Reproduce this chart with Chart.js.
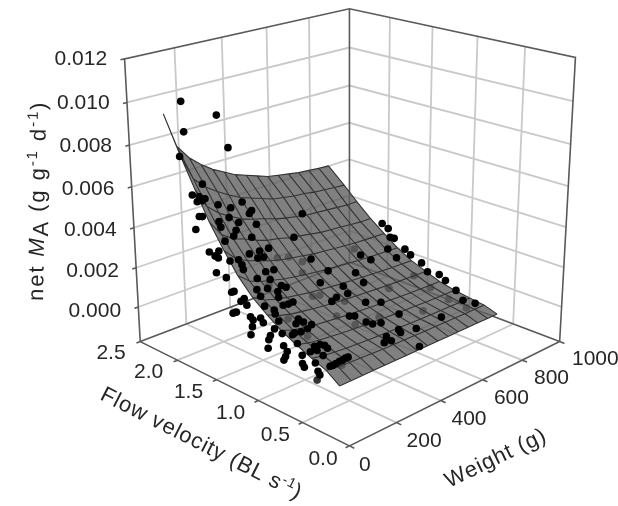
<!DOCTYPE html>
<html>
<head>
<meta charset="utf-8">
<script src="https://cdn.jsdelivr.net/npm/chart.js@4/dist/chart.umd.min.js"></script>
<style>
  html, body { margin: 0; background: #fff; }
  #wrap { width: 618px; height: 506px; }
  canvas { filter: blur(0.45px); }
</style>
</head>
<body>
<div id="wrap"><canvas id="myChart" width="618" height="506"></canvas></div>
<script>
const weightTicks = [0, 200, 400, 600, 800, 1000];
const velocityTicks = [0.0, 0.5, 1.0, 1.5, 2.0, 2.5];
const maTicks = [0.0, 0.002, 0.004, 0.006, 0.008, 0.01, 0.012];
const maFloor = -0.0018;

const surfaceWeight = [90, 139, 188, 237, 286, 335, 384, 433, 482, 531, 580, 629, 678, 727, 776, 825];
const surfaceVelocity = [0.33, 0.47, 0.63, 0.8, 0.97, 1.13, 1.3, 1.47, 1.63, 1.8, 1.97, 2.13, 2.33];
const surfaceMA = [
  [-1.8, -1.8, -1.8, -1.8, -1.8, -1.8, -1.8, -1.8, -1.8, -1.8, -1.8, -1.8, -1.8, -1.8, -1.8, -1.8],
  [2.6, 2, 1.6, 1.3, 1.1, 0.9, 0.8, 0.7, 0.6, 0.5, 0.5, 0.4, 0.4, 0.3, 0.3, 0.3],
  [5.2, 4.1, 3.5, 3, 2.7, 2.3, 2.1, 1.9, 1.7, 1.5, 1.4, 1.3, 1.2, 1.2, 1.1, 1.1],
  [8.4, 6.9, 6, 5.4, 4.8, 4.4, 4, 3.7, 3.4, 3.1, 2.9, 2.7, 2.5, 2.4, 2.3, 2.2],
  [12, 10, 8.9, 8, 7.4, 6.8, 6.3, 5.9, 5.5, 5.2, 4.9, 4.6, 4.4, 4.2, 4, 3.9],
  [16.6, 14, 12.5, 11.5, 10.7, 10, 9.4, 8.9, 8.5, 8.1, 7.7, 7.4, 7.1, 6.9, 6.7, 6.5],
  [22, 18.5, 16.7, 15.5, 14.5, 13.6, 12.9, 12.3, 11.8, 11.3, 10.9, 10.5, 10.1, 9.8, 9.6, 9.4],
  [29.6, 24.8, 22.5, 21, 19.6, 18.6, 17.7, 16.9, 16.2, 15.7, 15.2, 14.7, 14.3, 14, 13.7, 13.5],
  [39, 33, 30, 28, 26, 24.5, 23.5, 22.5, 21.5, 21, 20.3, 19.8, 19.3, 19, 18.8, 18.5],
  [50, 42, 38, 36, 33.5, 31.5, 30.5, 29, 28, 27, 26, 25.5, 25, 24.5, 24, 24],
  [63.5, 53, 48, 44.5, 41.5, 39.5, 38, 36, 34.5, 33.5, 32.5, 32, 31.5, 31, 30.5, 30.5],
  [76.5, 64, 58.5, 54.5, 51, 48, 46, 44, 42, 41, 40, 39.5, 38.5, 38, 37.5, 37],
  [94, 77, 70, 65, 61, 58, 55, 53, 51, 49, 48, 47, 46, 45.5, 45, 44.6],
];

// black dots
const dotWeight = [169, 316, 176, 362, 155, 175, 74, 102, 80, 113, 151, 205, 329, 262, 349, 332, 73, 70, 223, 160, 257, 154, 334, 70, 221, 197, 274, 136, 315, 268, 70, 73, 70, 217, 268, 70, 70, 239, 94, 150, 150, 145, 454, 479, 233, 272, 70, 70, 182, 230, 408, 253, 266, 190, 141, 219, 70, 70, 204, 135, 70, 70, 70, 119, 198, 220, 244, 70, 70, 145, 131, 70, 70, 70, 70, 113, 196, 171, 203, 223, 73, 70, 194, 159, 70, 83, 115, 131, 70, 70, 98, 70, 70, 148, 171, 183, 180, 139, 70, 111, 70, 70, 73, 86, 70, 70, 138, 562, 455, 479, 563, 573, 464, 412, 379, 487, 539, 541, 380, 396, 408, 417, 448, 467, 459, 402, 395, 367, 117, 130, 146, 165, 178, 194, 206, 70, 70, 680, 658, 852, 858, 835, 847, 785, 847, 846, 783, 851, 829, 854, 846, 828, 795, 811, 646, 520, 439];
const dotVelocity = [2.35, 2.35, 2.35, 2.35, 2.35, 2.13, 1.95, 1.95, 1.91, 1.95, 2.03, 2.03, 2.09, 2.04, 2.03, 2.01, 1.83, 1.86, 1.95, 1.89, 1.93, 1.85, 1.93, 1.91, 1.86, 1.82, 1.82, 1.75, 1.73, 1.71, 1.75, 1.64, 1.67, 1.69, 1.66, 1.68, 1.64, 1.65, 1.57, 1.63, 1.59, 1.56, 1.59, 1.45, 1.54, 1.55, 1.67, 1.55, 1.5, 1.48, 1.36, 1.41, 1.39, 1.4, 1.39, 1.36, 1.46, 1.49, 1.31, 1.33, 1.34, 1.38, 1.31, 1.24, 1.24, 1.24, 1.25, 1.44, 1.48, 1.2, 1.15, 1.27, 1.15, 1.24, 1.12, 1.06, 1.06, 1.02, 1.02, 0.98, 1.0, 1.25, 0.95, 0.93, 1.27, 0.94, 0.91, 0.93, 1.04, 1.06, 0.81, 1.07, 0.89, 0.75, 0.75, 0.73, 0.69, 0.7, 0.85, 0.7, 0.87, 0.89, 0.69, 0.58, 0.68, 0.66, 0.63, 1.98, 1.8, 1.27, 1.24, 1.36, 1.18, 1.18, 1.15, 1.03, 0.98, 0.78, 0.95, 0.93, 0.83, 0.78, 0.76, 0.61, 0.57, 0.59, 0.52, 0.53, 0.5, 0.5, 0.51, 0.52, 0.52, 0.53, 0.53, 0.49, 0.51, 1.44, 1.51, 1.72, 1.66, 1.58, 1.56, 1.49, 1.43, 1.36, 1.38, 1.24, 1.12, 1.04, 0.95, 0.79, 0.64, 0.54, 0.55, 0.54, 0.32];
const dotMA = [0.00973, 0.00864, 0.00826, 0.0069, 0.00714, 0.00603, 0.00612, 0.00593, 0.00583, 0.0057, 0.00555, 0.00506, 0.00466, 0.00469, 0.00424, 0.00419, 0.00527, 0.00524, 0.00448, 0.00462, 0.00414, 0.00442, 0.00376, 0.00454, 0.004, 0.00387, 0.00351, 0.00397, 0.00295, 0.00303, 0.00371, 0.00392, 0.00365, 0.00312, 0.00281, 0.00363, 0.0036, 0.00289, 0.00347, 0.0032, 0.00302, 0.00286, 0.00207, 0.00159, 0.00242, 0.00234, 0.00284, 0.0028, 0.00237, 0.00215, 0.00144, 0.00188, 0.00177, 0.00202, 0.00219, 0.00181, 0.00229, 0.0022, 0.00168, 0.002, 0.00216, 0.00195, 0.00189, 0.00175, 0.00144, 0.0014, 0.00138, 0.00132, 0.0012, 0.00152, 0.00148, 0.0014, 0.00156, 0.0013, 0.00139, 0.00138, 0.0011, 0.00106, 0.001, 0.00085, 0.0013, 0.00096, 0.00084, 0.00089, 0.00053, 0.00114, 0.00099, 0.00097, 0.00092, 0.00068, 0.00084, 0.00025, 0.00072, 0.00058, 0.00056, 0.0005, 0.00045, 0.00052, 0.00052, 0.0006, 0.00024, 0.00003, 0.00063, 0.00042, 0.00028, 0.00014, 0.00042, 0.00336, 0.00284, 0.00111, 0.00099, 0.00125, 0.00096, 0.001, 0.00099, 0.00068, 0.00054, 0.00029, 0.00061, 0.00058, 0.00041, 0.00036, 0.00031, 0.00016, 0.00013, 0.00016, 0.00012, 0.00014, 0.00027, 0.00025, 0.00024, 0.00023, 0.00022, 0.00022, 0.00021, 0.00011, 0.00025, 0.00135, 0.00157, 0.00215, 0.00195, 0.00169, 0.00162, 0.00141, 0.00125, 0.00106, 0.00113, 0.00081, 0.00063, 0.00051, 0.00038, 0.00022, 0.00011, 0.00006, 0.00008, 0.0001, 0.00001];

// dots under the surface, seen through it
const hiddenWeight = [335, 363, 422, 376, 362, 468, 625, 338, 160, 164, 370, 410, 655, 764, 765, 758, 762, 627, 624, 155, 70, 324, 207];
const hiddenVelocity = [1.26, 1.25, 1.11, 1.49, 0.84, 0.83, 1.1, 0.99, 1.08, 0.87, 1.64, 1.58, 1.58, 1.13, 0.94, 0.72, 0.53, 0.71, 1.09, 0.47, 0.52, 1.65, 1.43];
const hiddenMA = [0.00125, 0.00119, 0.00088, 0.00186, 0.00046, 0.00038, 0.00071, 0.00073, 0.00123, 0.00076, 0.00243, 0.00212, 0.00179, 0.00068, 0.00038, 0.00018, 0.00006, 0.00019, 0.00068, 0.00019, -0.00019, 0.00256, 0.00208];

// camera for the box, fitted to its corners in the picture
function project(weight, velocity, ma) {
  const u = weight / 1000;
  const v = velocity / 2.5;
  const w = (ma - maFloor) / (0.012 - maFloor);
  const d = 1 + 0.1516 * u + 0.157 * v - 0.0805 * w;
  return {
    x: (350 + 298.3 * u - 190.3 * v - 28.2 * w) / d,
    y: (449 - 54 * u - 52.1 * v - 336.9 * w) / d,
  };
}

const GAP = { x: NaN, y: NaN };

// several polylines in one dataset, NaN breaks the line
function joined(lines) {
  const out = [];
  lines.forEach((l) => {
    l.forEach((p) => out.push(project(p[0], p[1], p[2])));
    out.push(GAP);
  });
  return out;
}

function lineSet(data, color, width, order) {
  return {
    data: data,
    showLine: true,
    borderColor: color,
    borderWidth: width,
    pointRadius: 0,
    tension: 0,
    spanGaps: false,
    fill: false,
    order: order,
  };
}

function dotSet(w, v, ma, color, order) {
  return {
    data: w.map((val, i) => project(val, v[i], ma[i])),
    showLine: false,
    pointRadius: 3.8,
    pointBorderWidth: 0,
    pointBackgroundColor: color,
    order: order,
  };
}

const wMax = 1000, vMax = 2.5, zMax = 0.012;

const wallLines = [];
maTicks.filter((z) => z < zMax).forEach((z) => {
  wallLines.push([[0, vMax, z], [wMax, vMax, z], [wMax, 0, z]]);
});
weightTicks.slice(1, -1).forEach((t) => {
  wallLines.push([[t, vMax, maFloor], [t, vMax, zMax]]);
  wallLines.push([[t, 0, maFloor], [t, vMax, maFloor]]);
});
velocityTicks.slice(1, -1).forEach((t) => {
  wallLines.push([[wMax, t, maFloor], [wMax, t, zMax]]);
  wallLines.push([[0, t, maFloor], [wMax, t, maFloor]]);
});

const frameLines = [
  [[0, vMax, maFloor], [0, vMax, zMax], [wMax, vMax, zMax], [wMax, 0, zMax], [wMax, 0, maFloor]],
  [[wMax, vMax, maFloor], [wMax, vMax, zMax]],
  [[0, vMax, maFloor], [wMax, vMax, maFloor], [wMax, 0, maFloor]],
  [[0, vMax, maFloor], [0, 0, maFloor], [wMax, 0, maFloor]],
];
maTicks.forEach((z) => frameLines.push([[-16, vMax, z], [0, vMax, z]]));
weightTicks.forEach((t) => frameLines.push([[t, -0.05, maFloor], [t, 0, maFloor]]));
velocityTicks.forEach((t) => frameLines.push([[-16, t, maFloor], [0, t, maFloor]]));

const ma = (r, c) => surfaceMA[r][c] * 0.0001;
const meshLines = [];
surfaceVelocity.forEach((v, r) => {
  meshLines.push(surfaceWeight.map((w, c) => [w, v, ma(r, c)]));
});
surfaceWeight.forEach((w, c) => {
  meshLines.push(surfaceVelocity.map((v, r) => [w, v, ma(r, c)]));
});

// outline of the surface, closed for the fill
const nRow = surfaceVelocity.length, nCol = surfaceWeight.length;
const outline = [];
for (let c = 0; c < nCol; c++) outline.push([surfaceWeight[c], surfaceVelocity[0], ma(0, c)]);
for (let r = 1; r < nRow; r++) outline.push([surfaceWeight[nCol - 1], surfaceVelocity[r], ma(r, nCol - 1)]);
for (let c = nCol - 2; c >= 0; c--) outline.push([surfaceWeight[c], surfaceVelocity[nRow - 1], ma(nRow - 1, c)]);
for (let r = nRow - 2; r > 0; r--) outline.push([surfaceWeight[0], surfaceVelocity[r], ma(r, 0)]);

const surfaceFill = lineSet(outline.map((p) => project(p[0], p[1], p[2])), "rgba(0,0,0,0)", 0, 60);
surfaceFill.fill = "shape";
surfaceFill.backgroundColor = "rgba(96,96,96,0.8)";

const FONT = '"Liberation Sans", Arial, sans-serif';
const INK = "#262626";

// text made of pieces: plain, italic, sub and superscript
function drawRun(c, parts, x, y, angle, spacing) {
  c.save();
  c.translate(x, y);
  c.rotate(angle);
  c.textAlign = "left";
  c.textBaseline = "alphabetic";
  c.fillStyle = INK;
  c.letterSpacing = spacing + "px";
  let at = 0;
  parts.forEach((p) => {
    c.font = (p.italic ? "italic " : "") + (p.size || 22) + "px " + FONT;
    c.fillText(p.text, at, p.rise ? -p.rise : 0);
    at += c.measureText(p.text).width;
  });
  c.restore();
}

const axisText = {
  id: "axisText",
  afterDraw(chart) {
    const c = chart.ctx;
    c.save();
    c.fillStyle = INK;
    c.font = "21px " + FONT;
    c.textBaseline = "middle";

    c.textAlign = "right";
    maTicks.forEach((z) => {
      const p = project(0, vMax, z);
      c.fillText(z.toFixed(3), p.x - 15, p.y + 3);
    });
    c.textAlign = "center";
    velocityTicks.forEach((t) => {
      const p = project(0, t, maFloor);
      c.fillText(t.toFixed(1), p.x - 27, p.y + 10);
    });
    c.textAlign = "left";
    weightTicks.forEach((t) => {
      const p = project(t, 0, maFloor);
      c.fillText(String(t), p.x + 9, p.y + 16);
    });
    c.restore();

    drawRun(c, [
      { text: "net " },
      { text: "M", italic: true },
      { text: "A", rise: -4 },
      { text: " (g g" },
      { text: "-1", size: 15, rise: 8 },
      { text: " d" },
      { text: "-1", size: 15, rise: 8 },
      { text: ")" },
    ], 43, 301, -Math.PI / 2 + 0.015, 1.9);

    drawRun(c, [
      { text: "Flow velocity (BL s" },
      { text: "-1", size: 14, rise: 8 },
      { text: ")" },
    ], 99, 399, 0.47, 0.9);

    drawRun(c, [{ text: "Weight (g)" }], 449, 488, -0.45, 0.9);
  },
};

new Chart(document.getElementById("myChart"), {
  type: "scatter",
  data: {
    datasets: [
      lineSet(joined(wallLines), "#c9c9c9", 1.8, 90),
      lineSet(joined(frameLines), "#5a5a5a", 1.6, 80),
      dotSet(hiddenWeight, hiddenVelocity, hiddenMA, "#333333", 70),
      surfaceFill,
      lineSet(joined(meshLines), "#333333", 1.1, 50),
      dotSet(dotWeight, dotVelocity, dotMA, "#000000", 40),
    ],
  },
  options: {
    responsive: false,
    animation: false,
    layout: { padding: 0 },
    plugins: { legend: { display: false }, tooltip: { enabled: false } },
    scales: {
      x: { type: "linear", min: 0, max: 618, display: false },
      y: { type: "linear", min: 0, max: 506, reverse: true, display: false },
    },
  },
  plugins: [axisText],
});
</script>
</body>
</html>
